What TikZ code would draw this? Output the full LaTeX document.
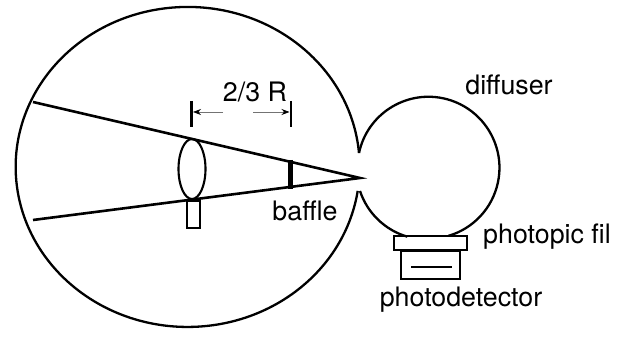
\documentclass[tikz,border=0pt]{standalone}
\usepackage{fontspec}
\setmainfont{TeX Gyre Heros}
\usetikzlibrary{arrows.meta,shapes.geometric}
\tikzset{
  outline/.style={draw=black,line width=2.3pt},
  ray/.style={draw=black,line width=2.6pt},
  dimtick/.style={draw=black,line width=2.2pt},
  dimarrow/.style={draw=black!55,line width=0.7pt,-{Stealth[length=8pt,width=6pt,black]}},
  label/.style={inner sep=0pt,font=\fontsize{26.8}{30}\selectfont,text=black}
}
\begin{document}
\begin{tikzpicture}[x=1pt,y=1pt]
\useasboundingbox (0,0) rectangle (625,337);
% spheres
\coordinate (topcusp) at (359,184);
\coordinate (botcusp) at (360,146);
\draw[outline] (topcusp) arc[start angle=5,end angle=351.4,x radius=172pt,y radius=160pt];
\draw[outline] (topcusp) arc[start angle=168,end angle=-73.6,radius=71pt];
\draw[outline] (botcusp) arc[start angle=198.4,end angle=253.6,radius=71pt];
% rays
\coordinate (apex) at (360,159);
\coordinate (rayA) at (33,235);
\coordinate (rayB) at (33,117);
\draw[ray,line join=miter] (rayA) -- (apex) -- (rayB);
% lens and stand
\node[draw=black,line width=2.1pt,ellipse,minimum width=27pt,minimum height=60pt,inner sep=0pt] (lens) at (192,168) {};
\node[draw=black,line width=2.1pt,rectangle,minimum width=13pt,minimum height=27pt,inner sep=0pt] (stand) at (193.5,122.5) {};
% baffle
\coordinate (bafA) at (290,177);
\coordinate (bafB) at (290,148);
\draw[black,line width=5pt] (bafA) -- (bafB);
% dimension
\coordinate (tickAt) at (191.5,236);
\coordinate (tickAb) at (191.5,210);
\coordinate (tickBt) at (291,236);
\coordinate (tickBb) at (291,210);
\draw[dimtick] (tickAt) -- (tickAb);
\draw[dimtick] (tickBt) -- (tickBb);
\coordinate (arrA) at (223,225);
\coordinate (arrAe) at (193,225);
\coordinate (arrB) at (253,225);
\coordinate (arrBe) at (289.5,225);
\draw[dimarrow] (arrA) -- (arrAe);
\draw[dimarrow] (arrB) -- (arrBe);
% filter and detector
\node[draw=black,line width=2.3pt,rectangle,minimum width=73pt,minimum height=14pt,inner sep=0pt] (filter) at (430.5,94) {};
\node[draw=black,line width=2.3pt,rectangle,minimum width=59pt,minimum height=28pt,inner sep=0pt,anchor=north] (detector) at (430.5,87) {};
\coordinate (sensA) at (411,70);
\coordinate (sensB) at (452,70);
\draw[black,line width=2.3pt] (sensA) -- (sensB);
% labels
\node[label] (lblR) at (255,245) {2/3 R};
\node[label] (lblD) at (509,252) {diffuser};
\node[label] (lblB) at (305,126) {baffle};
\node[label] (lblP) at (547,100) {photopic fil};
\node[label] (lblT) at (461,37) {photodetector};
\end{tikzpicture}
\end{document}
